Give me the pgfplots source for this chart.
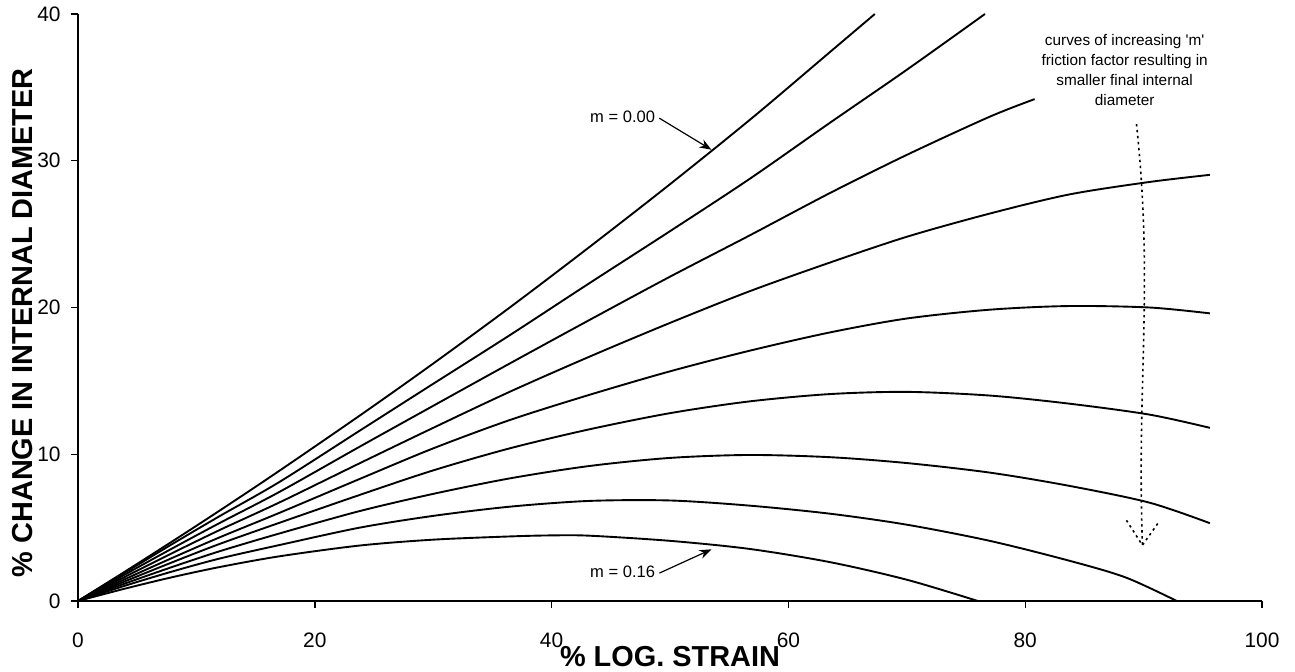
\documentclass[border=0pt]{standalone}
\usepackage{fontspec}
\setmainfont{Liberation Sans}
\usepackage{pgfplots}
\pgfplotsset{compat=1.18}
\usetikzlibrary{arrows.meta}
\pgfplotsset{curve/.style={black, solid, line width=0.95pt, smooth, no markers}}

\begin{document}
\begin{tikzpicture}
\begin{axis}[
  scale only axis, width=592bp, height=293.5bp,
  xmin=0, xmax=100, ymin=0, ymax=40,
  axis x line*=bottom, axis y line*=left,
  axis line style={line width=0.8pt, -},
  xtick={0,20,...,100}, ytick={0,10,...,40},
  tick align=outside, major tick length=3.5bp,
  tick style={line width=0.7pt, black},
  /pgf/number format/assume math mode=true,
  ticklabel style={font=\fontsize{10.5}{12}\selectfont, inner sep=0pt},
  xticklabel style={anchor=base, yshift=-19.5bp},
  yticklabel style={anchor=east, xshift=-5bp},
  xlabel={\% LOG. STRAIN},
  ylabel={\% CHANGE IN INTERNAL DIAMETER},
  label style={font=\fontsize{14.5}{16}\selectfont\bfseries, inner sep=0pt},
  xlabel style={at={(axis description cs:0.5,-0.111)}, anchor=base},
  ylabel style={at={(axis description cs:-0.0465,0.474)}, anchor=center},
  clip=false,
]
% m = 0.00
\addplot[curve] coordinates {(0,0) (4,2.02) (8,4.08) (12,6.18) (17,8.87) (24,12.75) (30,16.18) (36.5,20.02) (43,24.0) (50,28.4) (57,32.96) (63.5,37.4) (67.3,40.0)};
% m = 0.02
\addplot[curve] coordinates {(0,0) (4,1.95) (8,3.9) (12,5.8) (17.05,8.13) (23.8,11.61) (30,14.8) (36.5,18.13) (43.2,21.66) (50,25.2) (56.7,28.75) (63.46,32.56) (70,36.2) (76.6,40)};
% m = 0.04
\addplot[curve] coordinates {(0,0) (4,1.82) (8,3.6) (12,5.33) (17.05,7.45) (23.8,10.52) (30,13.3) (36.5,16.2) (43.2,19.15) (50,22.1) (56.7,24.9) (63.46,27.78) (70,30.4) (77,33.0) (80.8,34.2)};
% m = 0.06
\addplot[curve] coordinates {(0,0) (4,1.66) (8,3.28) (12,4.85) (17.05,6.73) (23.8,9.39) (30,11.8) (36.5,14.27) (43.2,16.65) (50,18.95) (56.7,21.1) (63.46,23.05) (70,24.82) (77,26.4) (83.7,27.7) (90.46,28.55) (95.6,29.04)};
% m = 0.08
\addplot[curve] coordinates {(0,0) (4,1.5) (8,2.95) (12,4.35) (17.05,6.02) (23.8,8.32) (30,10.4) (36.5,12.34) (43.2,14.05) (50,15.65) (56.7,17.05) (63.5,18.3) (70,19.25) (77,19.85) (83.7,20.1) (90.5,20.0) (95.6,19.6)};
% m = 0.10
\addplot[curve] coordinates {(0,0) (4,1.35) (8,2.65) (12,3.9) (17.05,5.34) (23.8,7.23) (30,8.9) (36.5,10.41) (43.2,11.7) (50,12.8) (56.7,13.6) (63.5,14.1) (70,14.25) (77,14.0) (83.7,13.45) (90.5,12.7) (95.6,11.8)};
% m = 0.12
\addplot[curve] coordinates {(0,0) (4,1.2) (8,2.33) (12,3.4) (17.05,4.61) (23.8,6.13) (30,7.3) (36.5,8.36) (43.2,9.2) (50,9.75) (56.7,9.95) (63.5,9.8) (70,9.4) (77,8.75) (83.7,7.85) (90.5,6.7) (95.6,5.3)};
% m = 0.14
\addplot[curve] coordinates {(0,0) (4,1.05) (8,2.02) (12,2.9) (17.05,3.82) (23.8,5.0) (30,5.8) (36.5,6.43) (43.2,6.82) (50,6.85) (56.7,6.5) (63.5,5.95) (70,5.2) (77,4.1) (83.7,2.75) (88.5,1.6) (92.8,0)};
% m = 0.16
\addplot[curve] coordinates {(0,0) (4,0.85) (8,1.63) (12,2.32) (17.05,3.05) (23.8,3.78) (30,4.18) (36.5,4.4) (40,4.47) (43.2,4.45) (50,4.1) (56.7,3.55) (63.5,2.65) (70,1.45) (76,0)};

\node[font=\fontsize{8.3}{10}\selectfont] at (axis cs:46,33) {m = 0.00};
\draw[-{Stealth[length=6bp,width=4.5bp]}, line width=0.6pt] (axis cs:49.1,32.9) -- (axis cs:53.5,30.75);
\node[font=\fontsize{8.3}{10}\selectfont] at (axis cs:46,2.0) {m = 0.16};
\draw[-{Stealth[length=6bp,width=4.5bp]}, line width=0.6pt] (axis cs:49.1,1.9) -- (axis cs:53.5,3.52);

\node[font=\fontsize{7.7}{10}\selectfont, align=center] at (axis cs:88.4,36.2)
  {curves of increasing \textquotesingle m\textquotesingle\\ friction factor resulting in\\ smaller final internal\\ diameter};
\draw[line width=0.8pt, dash pattern=on 1.2pt off 1.8pt] (axis cs:89.4,32.5) to[out=-84, in=92] (axis cs:89.9,3.8);
\draw[line width=0.8pt, dash pattern=on 1.2pt off 1.8pt] (axis cs:88.55,5.5) -- (axis cs:89.9,3.8) -- (axis cs:91.3,5.4);
\end{axis}
\pgfresetboundingbox
\path (-39bp,-35.5bp) rectangle (608.5bp,300.5bp);
\end{tikzpicture}
\end{document}
